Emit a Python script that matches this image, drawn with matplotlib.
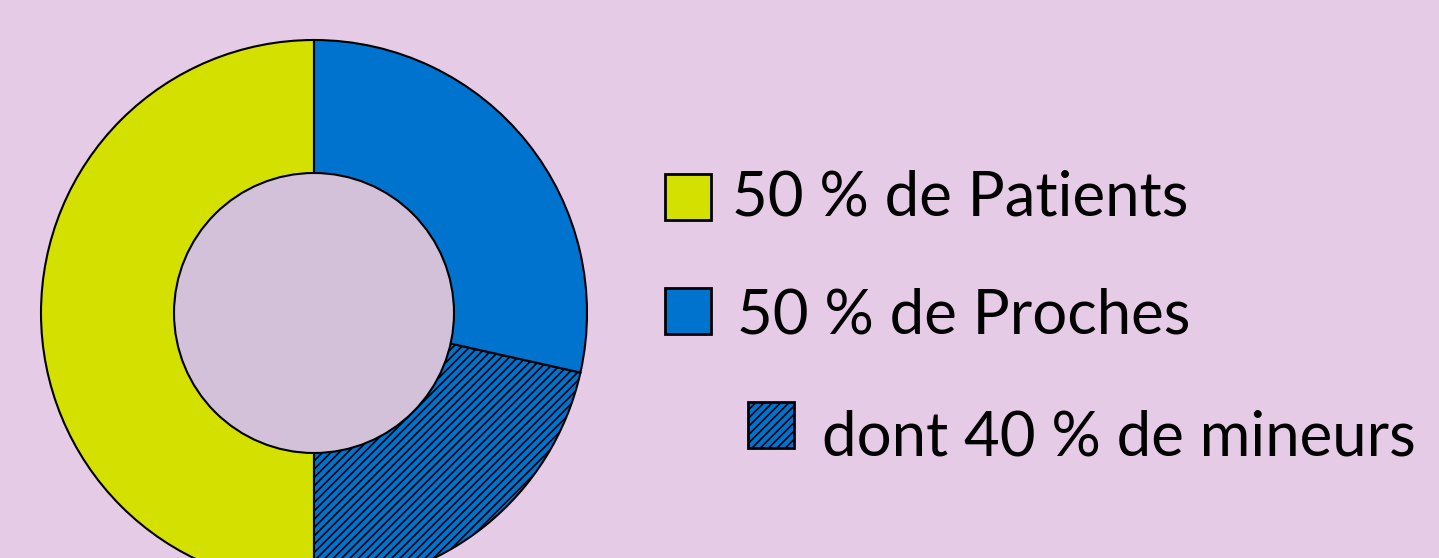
import matplotlib.pyplot as plt
from matplotlib.patches import Circle, Rectangle

plt.rcParams['font.family'] = ['Lato', 'DejaVu Sans']
plt.rcParams['hatch.linewidth'] = 1.2
plt.rcParams['hatch.color'] = 'black'

# Donnees
labels = ["50 % de Patients", "dont 40 % de mineurs", "50 % de Proches"]
valeurs = [50, 21.5, 28.5]
couleurs = ["#D4E100", "#0073CF", "#0073CF"]
hachures = [None, "////", None]

fond = "#E6CBE6"
trou = "#D2C1D9"

fig = plt.figure(figsize=(14.39, 5.58), dpi=100)
fig.patch.set_facecolor(fond)
ax = fig.add_axes([0, 0, 1, 1])
ax.set_facecolor(fond)

# Donut (coordonnees en pixels, y vers le haut)
cx, cy = 314, 558 - 313
wedges, _ = ax.pie(valeurs, colors=couleurs, startangle=90, counterclock=True,
                   radius=273, center=(cx, cy), frame=True,
                   wedgeprops=dict(edgecolor="black", linewidth=1.5))
for w, h in zip(wedges, hachures):
    if h:
        w.set_hatch(h)
ax.add_patch(Circle((cx, cy), 140, facecolor=trou, edgecolor="black", linewidth=1.5, zorder=5))

# Legende
items = [
    (0, 665, 174, 215, 732),
    (2, 665, 288, 334, 737),
    (1, 748, 402, 455, 822),
]
for i, xs, ys, base, xt in items:
    ax.add_patch(Rectangle((xs, 558 - ys - 46), 46, 46, facecolor=couleurs[i],
                           hatch=hachures[i], edgecolor="black", linewidth=2))
    ax.text(xt, 558 - base, labels[i], fontsize=44.5, va="baseline", ha="left", color="black")

ax.set_xlim(0, 1439)
ax.set_ylim(0, 558)
ax.set_aspect("equal")
ax.axis("off")

fig.savefig("out.png", dpi=100, facecolor=fond)
